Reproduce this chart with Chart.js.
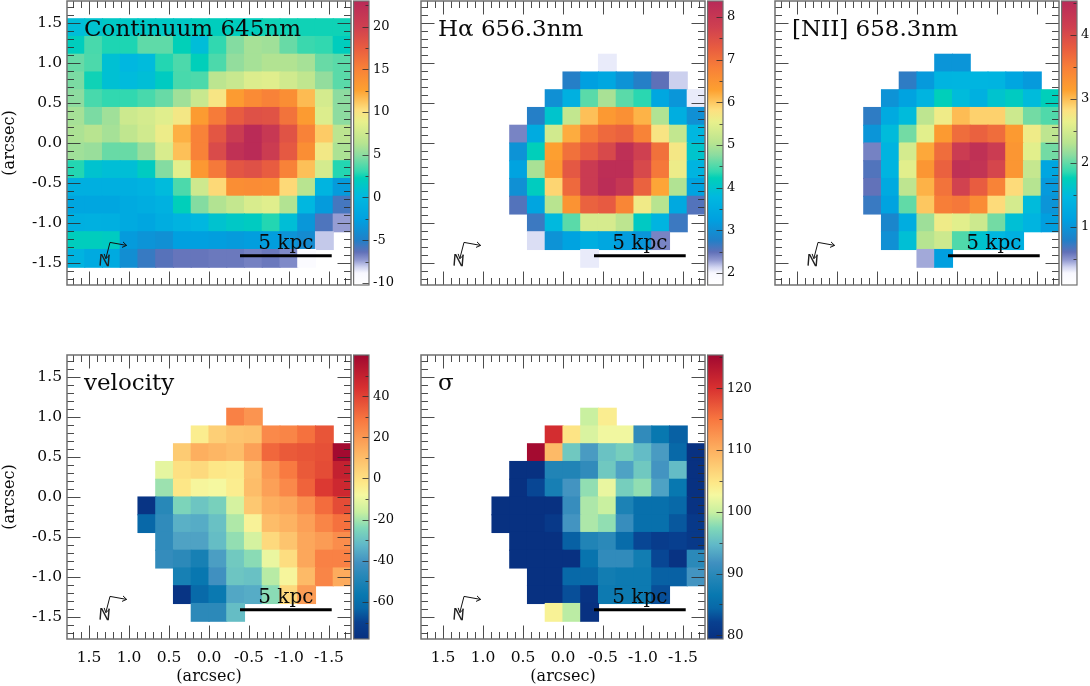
<!DOCTYPE html>
<html>
<head>
<meta charset="utf-8">
<title>Spatially resolved line maps</title>
<script src="https://cdn.jsdelivr.net/npm/chart.js@4/dist/chart.umd.js"></script>
<style>
  html, body { margin: 0; padding: 0; background: #fff; overflow: hidden; }
  #stage { position: relative; width: 1090px; height: 686px; overflow: hidden; }
  canvas { position: absolute; }
</style>
</head>
<body>
<div id="stage"></div>
<script>
const _ = null;

// Axis labels shared by the maps (arcsec) and the colour bar labels of each map.
const arcsecTicks = [-1.5, -1.0, -0.5, 0.0, 0.5, 1.0, 1.5];
const continuumBarTicks = [-10, -5, 0, 5, 10, 15, 20];
const halphaBarTicks = [2, 3, 4, 5, 6, 7, 8];
const niiBarTicks = [1, 2, 3, 4];
const velocityBarTicks = [-60, -40, -20, 0, 20, 40];
const sigmaBarTicks = [80, 90, 100, 110, 120];

// Spaxel values, top row first, columns running from +RA side to -RA side.
const continuum = [
  [_,_,_,_,_,_,_,_,_,_,_,_,_,_,_,_],
  [0.5,1,1.5,1.5,1.5,1.5,1.5,2,2,2,2,2.5,2.5,2.5,2.5,2.5],
  [2,3.5,2.7,2.7,4,4,2.3,0.5,3,4.8,5.8,5.6,4.2,3.2,3,2],
  [4.2,3.6,0.8,0,0.3,2.8,3.6,2.2,3.6,5.2,5.8,6.2,6.2,5.8,4.2,3.9],
  [4.6,2.5,0.8,0.3,0.6,1.8,3.5,3.6,6.6,7.2,8.2,8.4,7.6,6.8,5.2,3.9],
  [5,3.5,3,3,3.5,4.2,5.6,7.2,9.8,13,14.3,15,14,11.6,7.8,5],
  [5.8,4.6,5.6,7.4,7.8,8.4,9.6,13,15.5,17.5,18.5,18.3,16,13,8.2,5],
  [6,6.4,5.8,6.8,7.6,9.2,12,15,18,20.5,22.8,21,18.3,15,11,6.6],
  [5.6,5.4,4.2,4.2,5.4,8,11.4,15,19,22,22.8,20.5,17.8,14,9.5,6],
  [2.8,1,0.6,0.6,1.8,4.8,8.6,13.2,15.6,18,18.5,17.5,15,11.4,7.8,2.8],
  [-1,-1,-1,-1,-0.6,0.3,3.6,7.5,10.5,14,14.2,14,10.5,6.4,-0.4,-3],
  [-2,-2,-2,-1.5,-1.2,-0.7,2.2,4.8,6.2,7,8,8.4,6.2,0,-3,-5.8],
  [-1,-0.8,-1,-1.5,-2,-1.2,-0.5,0,1,1.5,1.8,2.8,0.6,-3.3,-6,-7.4],
  [2,2,1.8,-3,-3.5,-3.8,-2.6,-2.6,-2.8,-3,-2.8,-2.8,-3.5,-4.2,-8,_],
  [-0.5,-1.5,-1.5,-4,-5.5,-6.2,-6.5,-6.5,-6.6,-6.6,-6.8,-6.6,-7,-9.5,_,_],
  [_,_,_,_,_,_,_,_,_,_,_,_,_,_,_,_]
];
const halpha = [
  [_,_,_,_,_,_,_,_,_,_,_,_,_,_,_,_],
  [_,_,_,_,_,_,_,_,_,_,_,_,_,_,_,_],
  [_,_,_,_,_,_,_,_,_,_,_,_,_,_,_,_],
  [_,_,_,_,_,_,_,_,_,_,2.05,_,_,_,_,_],
  [_,_,_,_,_,_,_,_,2.75,3.25,3.4,3.05,2.75,2.5,2.15,_],
  [_,_,_,_,_,_,_,3.0,3.6,4.55,4.95,4.55,4.35,3.4,3.1,2.05],
  [_,_,_,_,_,_,2.75,4.0,5.15,6.05,6.4,6.55,6.15,5.0,3.55,3.0],
  [_,_,_,_,_,2.4,3.5,5.3,6.2,6.85,7.1,7.2,6.75,5.75,5.15,3.75],
  [_,_,_,_,_,3.05,4.2,6.3,7.0,7.3,7.6,8.2,7.75,7.0,5.7,4.0],
  [_,_,_,_,_,3.3,4.95,6.4,7.35,7.9,8.25,8.25,7.6,6.9,5.6,3.7],
  [_,_,_,_,_,3.0,4.15,5.9,7.1,7.9,8.3,8.0,7.2,6.25,5.0,3.3],
  [_,_,_,_,_,2.55,3.35,5.05,6.5,7.2,7.3,6.7,5.65,5.05,3.45,2.55],
  [_,_,_,_,_,_,2.65,3.8,4.55,5.35,5.35,5.1,4.1,3.7,2.65,_],
  [_,_,_,_,_,_,2.1,3.05,3.3,3.55,3.4,3.2,3.1,2.4,_,_],
  [_,_,_,_,_,_,_,_,_,2.05,_,_,_,_,_,_],
  [_,_,_,_,_,_,_,_,_,_,_,_,_,_,_,_]
];
const nii = [
  [_,_,_,_,_,_,_,_,_,_,_,_,_,_,_,_],
  [_,_,_,_,_,_,_,_,_,_,_,_,_,_,_,_],
  [_,_,_,_,_,_,_,_,_,_,_,_,_,_,_,_],
  [_,_,_,_,_,_,_,_,_,1.0,1.0,_,_,_,_,_],
  [_,_,_,_,_,_,_,0.75,1.05,1.4,1.42,1.42,1.4,1.2,1.05,_],
  [_,_,_,_,_,_,0.98,1.15,1.4,1.75,1.5,1.35,1.6,1.7,1.5,1.75],
  [_,_,_,_,_,0.75,1.25,1.5,2.35,2.7,3.0,2.9,2.9,2.45,2.05,1.95],
  [_,_,_,_,_,1.0,1.5,2.05,2.6,3.2,3.65,3.75,3.65,3.2,2.7,2.35],
  [_,_,_,_,_,0.55,1.4,2.5,3.1,3.65,4.2,4.4,4.2,3.25,2.6,2.05],
  [_,_,_,_,_,0.65,1.4,2.6,3.25,3.75,4.4,4.35,4.05,3.25,2.4,1.2],
  [_,_,_,_,_,0.6,1.25,2.35,3.05,3.6,4.1,3.8,3.45,2.85,2.3,1.05],
  [_,_,_,_,_,0.72,1.15,2.0,2.95,3.5,3.55,3.35,2.85,2.5,1.5,1.0],
  [_,_,_,_,_,_,0.85,1.3,2.2,2.7,2.6,2.45,2.05,1.55,1.4,1.1],
  [_,_,_,_,_,_,0.95,1.55,2.3,2.45,1.95,1.6,1.45,1.35,_,_],
  [_,_,_,_,_,_,_,_,0.45,1.1,_,_,_,_,_,_],
  [_,_,_,_,_,_,_,_,_,_,_,_,_,_,_,_]
];
const velocity = [
  [_,_,_,_,_,_,_,_,_,_,_,_,_,_,_,_],
  [_,_,_,_,_,_,_,_,_,_,_,_,_,_,_,_],
  [_,_,_,_,_,_,_,_,_,_,_,_,_,_,_,_],
  [_,_,_,_,_,_,_,_,_,26,21,_,_,_,_,_],
  [_,_,_,_,_,_,_,-4,5,8,9,24,25,30,36,_],
  [_,_,_,_,_,_,6,14,12,10,18,32,35,36,37,59],
  [_,_,_,_,_,-11,0,2,-2,-3,9,20,28,35,38,50],
  [_,_,_,_,_,-21,-2,-7,-8,-4,10,18,24,33,42,47],
  [_,_,_,_,-76,-47,-25,-29,-26,-14,7,14,16,22,31,38],
  [_,_,_,_,-63,-45,-34,-35,-30,-19,-6,10,13,18,25,30],
  [_,_,_,_,_,-45,-37,-37,-31,-22,-14,2,8,16,19,23],
  [_,_,_,_,_,-44,-46,-52,-38,-28,-23,-10,1,16,26,26],
  [_,_,_,_,_,_,-52,-57,-41,-29,-30,-18,-7,11,25,15],
  [_,_,_,_,_,_,-76,-62,-56,-36,-35,-23,2,19,_,_],
  [_,_,_,_,_,_,_,-46,-46,-31,_,_,_,_,_,_],
  [_,_,_,_,_,_,_,_,_,_,_,_,_,_,_,_]
];
const sigma = [
  [_,_,_,_,_,_,_,_,_,_,_,_,_,_,_,_],
  [_,_,_,_,_,_,_,_,_,_,_,_,_,_,_,_],
  [_,_,_,_,_,_,_,_,_,_,_,_,_,_,_,_],
  [_,_,_,_,_,_,_,_,_,100,104,_,_,_,_,_],
  [_,_,_,_,_,_,_,120.5,105,101,102.5,102.5,90.5,86.5,84,_],
  [_,_,_,_,_,_,125,109,96,92.5,95.5,96.5,95,92.5,84.5,79.6],
  [_,_,_,_,_,79.6,79.6,89,89,90.5,96,93,96,92,95,79.6],
  [_,_,_,_,_,79.6,82.5,88,92,98,102,96.5,98,93,86.5,79.6],
  [_,_,_,_,79.6,79.6,79.6,79.6,91,99,100,88.5,85.5,85.5,84.5,80],
  [_,_,_,_,79.6,79.6,79.6,81,92,99,98,91,85.5,85.5,83.5,81],
  [_,_,_,_,_,79.6,79.6,79.6,84,89,90,85,82.5,81.5,82,81],
  [_,_,_,_,_,79.6,79.6,79.6,79.6,86,90.5,90.5,87.5,82.5,80,90],
  [_,_,_,_,_,_,79.6,79.6,84.5,84.5,87.5,87,87,84,84,92],
  [_,_,_,_,_,_,79.6,79.6,83,80,87,87,87,83,_,_],
  [_,_,_,_,_,_,_,103.5,99.5,79.6,_,_,_,_,_,_],
  [_,_,_,_,_,_,_,_,_,_,_,_,_,_,_,_]
];

// Colour tables as [fraction, colour] pairs.
const spectralWhite = [
  [0,'#ffffff'],[0.042,'#f8f8ff'],[0.063,'#d0d4f0'],[0.088,'#9098d0'],[0.116,'#6070b8'],
  [0.158,'#2080c8'],[0.229,'#00a0e0'],[0.31,'#00b8e0'],[0.377,'#00d0b8'],[0.398,'#30d8b0'],
  [0.458,'#8cdca0'],[0.5,'#b8e490'],[0.574,'#e8f08c'],[0.616,'#fde080'],[0.687,'#fda030'],
  [0.764,'#f88038'],[0.835,'#e85c40'],[0.908,'#cf4050'],[1,'#b82a58']
];
const blueYellowRed = [
  [0,'#083080'],[0.06,'#084090'],[0.109,'#0868a8'],[0.155,'#0878b0'],[0.225,'#2888b8'],
  [0.268,'#4090c0'],[0.331,'#60b8c8'],[0.391,'#80d8b8'],[0.447,'#c8f0a0'],[0.507,'#f5f8a0'],
  [0.549,'#fde888'],[0.665,'#fdb060'],[0.771,'#f87840'],[0.884,'#d83030'],[1,'#a00830']
];

const AXIS_LIMIT = 1.775;
const SERIF = '"DejaVu Serif", serif';

function hexRgb(h) {
  return [1, 3, 5].map(i => parseInt(h.substr(i, 2), 16));
}
function sampleColour(table, t) {
  t = Math.max(0, Math.min(1, t));
  for (let i = 1; i < table.length; i++) {
    if (t <= table[i][0]) {
      const [t0, c0] = table[i - 1], [t1, c1] = table[i];
      const f = (t - t0) / (t1 - t0);
      const a = hexRgb(c0), b = hexRgb(c1);
      return 'rgb(' + a.map((v, k) => Math.round(v + (b[k] - v) * f)).join(',') + ')';
    }
  }
  return table[table.length - 1][1];
}

// Turns a 16x16 grid into scatter points at spaxel centres in axis units.
function gridToPoints(rows) {
  const step = 2 * AXIS_LIMIT / rows.length;
  const pts = [];
  rows.forEach((row, r) => row.forEach((v, c) => {
    if (v !== null) pts.push({ x: AXIS_LIMIT - (c + 0.5) * step, y: AXIS_LIMIT - (r + 0.5) * step, v });
  }));
  return pts;
}

function overlayPlugin(p) {
  return {
    id: 'mapOverlay',
    afterDatasetsDraw(chart) {
      const { ctx, chartArea: a, scales } = chart;
      const sx = scales.x, sy = scales.y, sc = scales.cb;
      ctx.save();

      // Minor and major tick marks on all four sides of the map.
      ctx.strokeStyle = 'rgba(45,45,45,0.85)';
      ctx.lineWidth = 1;
      ctx.beginPath();
      for (let i = -17; i <= 17; i++) {
        const len = i % 5 === 0 ? 13.5 : 7;
        const px = Math.round(sx.getPixelForValue(i / 10)) + 0.5;
        const py = Math.round(sy.getPixelForValue(i / 10)) + 0.5;
        ctx.moveTo(px, a.bottom); ctx.lineTo(px, a.bottom - len);
        ctx.moveTo(px, a.top); ctx.lineTo(px, a.top + len);
        ctx.moveTo(a.left, py); ctx.lineTo(a.left + len, py);
        ctx.moveTo(a.right, py); ctx.lineTo(a.right - len, py);
      }
      ctx.stroke();

      // Map frame.
      ctx.strokeStyle = '#707070';
      ctx.lineWidth = 1.5;
      ctx.strokeRect(a.left, a.top, a.right - a.left, a.bottom - a.top);

      // Colour bar, painted along its own value scale.
      const barL = a.right + 2.6, barR = a.right + 18;
      const grad = ctx.createLinearGradient(0, a.bottom, 0, a.top);
      p.table.forEach(([t, c]) => grad.addColorStop(t, c));
      ctx.fillStyle = grad;
      ctx.fillRect(barL, a.top, barR - barL, a.bottom - a.top);
      ctx.strokeStyle = 'rgba(45,45,45,0.8)';
      ctx.lineWidth = 1;
      ctx.beginPath();
      const firstMinor = Math.ceil(sc.min / p.barMinorStep);
      for (let k = firstMinor; k * p.barMinorStep <= sc.max; k++) {
        const v = k * p.barMinorStep;
        const y = Math.round(sc.getPixelForValue(v)) + 0.5;
        const len = p.barTicks.includes(v) ? 6.5 : 3.5;
        ctx.moveTo(barR, y); ctx.lineTo(barR - len, y);
      }
      ctx.stroke();
      ctx.strokeStyle = '#707070';
      ctx.lineWidth = 1.2;
      ctx.strokeRect(barL, a.top, barR - barL, a.bottom - a.top);

      // Panel name and scale bar caption.
      ctx.fillStyle = '#0a0a0a';
      ctx.textAlign = 'left';
      ctx.textBaseline = 'alphabetic';
      ctx.font = '23px ' + SERIF;
      ctx.fillText(p.name, a.left + 17, a.top + 35);
      ctx.font = '20px ' + SERIF;
      ctx.textAlign = 'center';
      ctx.fillText('5 kpc', sx.getPixelForValue(-0.96), sy.getPixelForValue(-1.32));

      // Orientation arrows.
      const X = v => sx.getPixelForValue(v), Y = v => sy.getPixelForValue(v);
      const arrow = (x0, y0, x1, y1) => {
        ctx.beginPath();
        ctx.moveTo(x0, y0); ctx.lineTo(x1, y1);
        const ang = Math.atan2(y1 - y0, x1 - x0);
        [2.55, -2.55].forEach(d => {
          ctx.moveTo(x1, y1);
          ctx.lineTo(x1 + 5 * Math.cos(ang + d), y1 + 5 * Math.sin(ang + d));
        });
        ctx.stroke();
      };
      ctx.strokeStyle = '#111';
      ctx.lineWidth = 1;
      arrow(X(1.2375), Y(-1.2425), X(1.03), Y(-1.28));
      arrow(X(1.2375), Y(-1.2425), X(1.29), Y(-1.445));
      ctx.save();
      ctx.translate(X(1.305), Y(-1.48));
      ctx.rotate(0.08);
      ctx.font = '17px "Liberation Sans", sans-serif';
      ctx.textAlign = 'center';
      ctx.textBaseline = 'middle';
      ctx.fillStyle = '#222';
      ctx.fillText('N', 0, 0);
      ctx.restore();

      ctx.restore();
    }
  };
}

function addPanel(p) {
  const canvas = document.createElement('canvas');
  canvas.width = p.w; canvas.height = p.h;
  canvas.style.left = p.left + 'px';
  canvas.style.top = p.top + 'px';
  canvas.style.width = p.w + 'px';
  canvas.style.height = p.h + 'px';
  document.getElementById('stage').appendChild(canvas);

  const xHeight = p.h - 285;
  const barWidth = p.w - 351;
  const noPadding = s => { s.paddingTop = s.paddingBottom = s.paddingLeft = s.paddingRight = 0; };
  new Chart(canvas, {
    type: 'scatter',
    data: {
      datasets: [
        {
          label: 'spaxels',
          order: 1,
          data: gridToPoints(p.rows),
          pointStyle: 'rect',
          borderWidth: 0,
          pointBorderWidth: 0,
          pointBackgroundColor: c => sampleColour(p.table, (c.raw.v - p.min) / (p.max - p.min)),
          // A slight overlap keeps neighbouring squares free of antialiased seams.
          pointRadius: c => {
            const s = c.chart.scales.x;
            const w = Math.abs(s.getPixelForValue(0) - s.getPixelForValue(2 * AXIS_LIMIT / 16));
            return (w + 1.1) * Math.SQRT1_2;
          }
        },
        {
          label: '5 kpc',
          order: 0,
          showLine: true,
          data: [{ x: -0.3875, y: -1.41 }, { x: -1.534, y: -1.41 }],
          borderColor: '#000',
          borderWidth: 3,
          pointRadius: 0
        }
      ]
    },
    plugins: [overlayPlugin(p)],
    options: {
      responsive: false,
      animation: false,
      devicePixelRatio: 1,
      events: [],
      layout: { padding: { top: 1, left: 0, right: 0, bottom: 0 } },
      plugins: { legend: { display: false }, tooltip: { enabled: false } },
      scales: {
        x: {
          type: 'linear',
          reverse: true,
          min: -AXIS_LIMIT,
          max: AXIS_LIMIT,
          grid: { display: false, drawTicks: false },
          border: { display: false },
          afterBuildTicks: s => { s.ticks = arcsecTicks.map(value => ({ value })); },
          afterFit: s => { s.height = xHeight; noPadding(s); },
          ticks: {
            display: p.bottomLabels,
            autoSkip: false, maxRotation: 0, minRotation: 0, padding: 10, color: '#0a0a0a',
            font: { family: SERIF, size: 15.5 },
            callback: v => Number(v).toFixed(1)
          },
          title: {
            display: p.bottomLabels, text: '(arcsec)', color: '#0a0a0a',
            font: { family: SERIF, size: 16 }, padding: { top: 0, bottom: 0 }
          }
        },
        y: {
          type: 'linear',
          position: 'left',
          min: -AXIS_LIMIT,
          max: AXIS_LIMIT,
          grid: { display: false, drawTicks: false },
          border: { display: false },
          afterBuildTicks: s => { s.ticks = arcsecTicks.map(value => ({ value })); },
          afterFit: s => { s.width = 67; noPadding(s); },
          ticks: {
            display: p.leftLabels,
            autoSkip: false, maxRotation: 0, minRotation: 0, padding: 5, color: '#0a0a0a',
            font: { family: SERIF, size: 15.5 },
            callback: v => Number(v).toFixed(1)
          },
          title: {
            display: p.leftLabels, text: '(arcsec)', color: '#0a0a0a',
            font: { family: SERIF, size: 16 }, padding: { top: 0, bottom: 0 }
          }
        },
        cb: {
          type: 'linear',
          axis: 'y',
          position: 'right',
          min: p.min,
          max: p.max,
          grid: { display: false, drawTicks: false },
          border: { display: false },
          afterBuildTicks: s => { s.ticks = p.barTicks.map(value => ({ value })); },
          afterFit: s => { s.width = barWidth; noPadding(s); },
          ticks: {
            autoSkip: false, maxRotation: 0, minRotation: 0, padding: 22, color: '#0a0a0a',
            font: { family: SERIF, size: 13 },
            callback: v => String(v)
          }
        }
      }
    }
  });
}

addPanel({ name: 'Continuum 645nm', rows: continuum, table: spectralWhite, min: -10.25, max: 23,
  barTicks: continuumBarTicks, barMinorStep: 2.5, left: 0, top: 0, w: 400, h: 300, leftLabels: true, bottomLabels: false });
addPanel({ name: 'H\u03B1 656.3nm', rows: halpha, table: spectralWhite, min: 1.72, max: 8.37,
  barTicks: halphaBarTicks, barMinorStep: 0.5, left: 354, top: 0, w: 400, h: 300, leftLabels: false, bottomLabels: false });
addPanel({ name: '[NII] 658.3nm', rows: nii, table: spectralWhite, min: 0.09, max: 4.53,
  barTicks: niiBarTicks, barMinorStep: 0.5, left: 708, top: 0, w: 382, h: 300, leftLabels: false, bottomLabels: false });
addPanel({ name: 'velocity', rows: velocity, table: blueYellowRed, min: -78, max: 60,
  barTicks: velocityBarTicks, barMinorStep: 10, left: 0, top: 354, w: 400, h: 332, leftLabels: true, bottomLabels: true });
addPanel({ name: '\u03C3', rows: sigma, table: blueYellowRed, min: 79.4, max: 125.4,
  barTicks: sigmaBarTicks, barMinorStep: 5, left: 354, top: 354, w: 400, h: 332, leftLabels: false, bottomLabels: true });
</script>
</body>
</html>
